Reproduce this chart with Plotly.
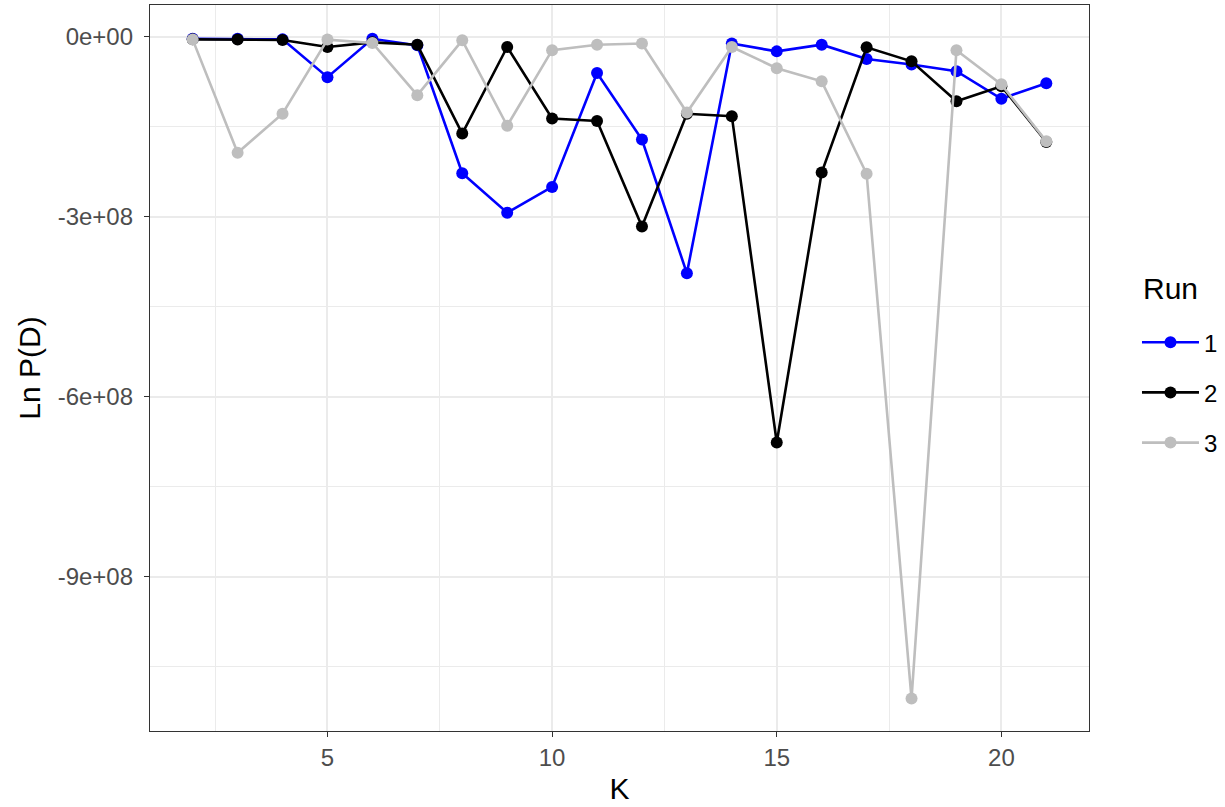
import plotly.graph_objects as go

K = list(range(2, 22))
run1 = [-3e6, -3e6, -4e6, -6.7e7, -3e6, -1.4e7, -2.27e8, -2.93e8, -2.50e8, -6.0e7,
        -1.71e8, -3.94e8, -1.1e7, -2.4e7, -1.28e7, -3.67e7, -4.6e7, -5.7e7, -1.03e8, -7.7e7]
run2 = [-4e6, -4.4e6, -5e6, -1.67e7, -9e6, -1.28e7, -1.61e8, -1.67e7, -1.36e8, -1.4e8,
        -3.16e8, -1.28e8, -1.32e8, -6.76e8, -2.26e8, -1.72e7, -4.06e7, -1.07e8, -8.2e7, -1.75e8]
run3 = [-4.4e6, -1.93e8, -1.28e8, -4.4e6, -1.0e7, -9.7e7, -5.6e6, -1.48e8, -2.2e7, -1.3e7,
        -1.1e7, -1.26e8, -1.67e7, -5.2e7, -7.4e7, -2.28e8, -1.103e9, -2.2e7, -7.9e7, -1.74e8]

runs = ["1", "2", "3"]
series = [run1, run2, run3]
colors = ["#0000FF", "#000000", "#BEBEBE"]

ytickvals = [0, -3e8, -6e8, -9e8]
yticktext = ["0e+00", "-3e+08", "-6e+08", "-9e+08"]
xtickvals = [5, 10, 15, 20]

fig = go.Figure()
for name, vals, col in zip(runs, series, colors):
    fig.add_trace(go.Scatter(
        x=K, y=vals, name=name, mode="lines+markers",
        line=dict(color=col, width=2.6),
        marker=dict(color=col, size=12),
        legendgroup=name,
    ))

font_family = "Liberation Sans, Arial, sans-serif"
fig.update_layout(
    width=1225, height=807,
    margin=dict(l=150, r=136, t=5, b=76, autoexpand=False),
    paper_bgcolor="white", plot_bgcolor="white",
    font=dict(family=font_family),
    showlegend=True,
    legend=dict(
        font=dict(size=24, color="black"),
        x=1.0511, xanchor="left", y=0.566, yanchor="top",
        tracegroupgap=16, itemwidth=57,
        bgcolor="rgba(0,0,0,0)",
    ),
    annotations=[dict(
        text="Run", xref="paper", yref="paper", x=1.0554, y=0.610,
        xanchor="left", yanchor="middle", showarrow=False,
        font=dict(size=30, color="black"),
    )],
    xaxis=dict(
        range=[1.05, 21.95], tickvals=xtickvals,
        ticks="outside", ticklen=5, tickcolor="#333333", tickwidth=1.2,
        tickfont=dict(size=24, color="#4D4D4D"),
        showgrid=True, gridcolor="#EBEBEB", gridwidth=1.5,
        minor=dict(tickvals=[2.5, 7.5, 12.5, 17.5], showgrid=True,
                   gridcolor="#EBEBEB", gridwidth=0.8, ticks=""),
        zeroline=False, showline=True, linecolor="#333333", linewidth=1.3, mirror=True,
        title=dict(text="K", font=dict(size=30, color="black"), standoff=8),
    ),
    yaxis=dict(
        range=[-1.157e9, 5.33e7], tickvals=ytickvals, ticktext=yticktext,
        ticks="outside", ticklen=5, tickcolor="#333333", tickwidth=1.2,
        tickfont=dict(size=24, color="#4D4D4D"),
        ticklabelstandoff=6,
        showgrid=True, gridcolor="#EBEBEB", gridwidth=1.5,
        minor=dict(tickvals=[-1.5e8, -4.5e8, -7.5e8, -10.5e8], showgrid=True,
                   gridcolor="#EBEBEB", gridwidth=0.8, ticks=""),
        zeroline=False, showline=True, linecolor="#333333", linewidth=1.3, mirror=True,
        title=dict(text="Ln P(D)", font=dict(size=30, color="black"), standoff=8),
    ),
)

fig.write_html("out.html", config={"displayModeBar": False},
               post_script="document.body.style.margin='0';")
